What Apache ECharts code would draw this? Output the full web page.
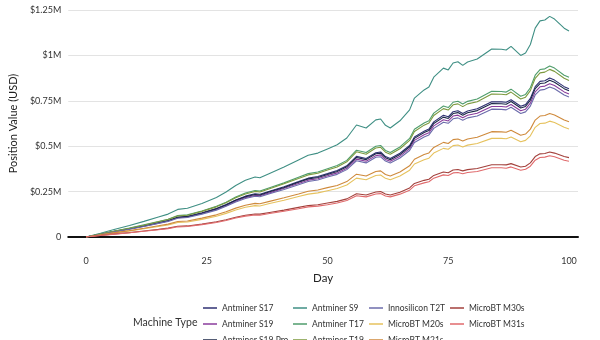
<!DOCTYPE html>
<html><head><meta charset="utf-8">
<script src="https://cdn.jsdelivr.net/npm/echarts@6/dist/echarts.min.js"></script>
<style>html,body{margin:0;padding:0;background:#fff}#c{width:600px;height:340px}</style>
</head><body><div id="c"></div>
<script>
// Values in thousands of USD
const days = [0,3,6,9,12,15,17,19,21,24,27,29,31,33,35,36,38,41,44,46,48,50,52,54,56,58,60,61,62,63,65,67,68,70,71,72,74,75,76,77,78,79,81,84,86,87,88,90,91,92,93,94,95,96,97,99,100];
const antminerS9 = [0,21,43,63,86,110,126,152,158,185,218,248,284,312,330,326,350,385,424,450,462,485,508,545,617,600,645,650,615,600,640,700,765,810,826,880,930,920,958,965,945,964,980,1035,1034,1030,1050,1000,1013,1060,1150,1190,1195,1215,1200,1150,1134];
const antminerT17 = [0,16,33,49,67,85,98,118,122,143,169,192,220,242,256,253,271,298,329,349,358,376,394,422,478,465,500,504,477,465,496,543,593,628,640,682,721,713,742,748,732,747,760,802,801,798,814,775,785,822,891,922,926,942,930,891,879];
const antminerT19 = [0,16,33,48,65,84,96,116,120,141,166,188,216,237,251,248,266,293,322,342,351,369,386,414,469,456,490,494,467,456,486,532,581,616,628,669,707,699,728,733,718,733,745,787,786,783,798,760,770,806,874,904,908,923,912,874,862];
const antminerS17 = [0,15,31,45,62,79,91,109,114,133,157,179,204,225,238,235,252,277,305,324,333,349,366,392,444,432,464,468,443,432,461,504,551,583,595,634,670,662,690,695,680,694,706,745,744,742,756,720,729,763,828,857,860,875,864,828,816];
const antminerS19Pro = [0,15,31,45,61,78,89,108,112,131,155,176,202,222,234,231,249,273,301,320,328,344,361,387,438,426,458,462,437,426,454,497,543,575,586,625,660,653,680,685,671,684,696,735,734,731,746,710,719,753,817,845,848,863,852,817,805];
const antminerS19 = [0,15,30,44,60,76,88,106,110,129,152,172,197,217,229,227,243,268,295,313,321,337,353,379,429,417,448,452,427,417,445,487,532,563,574,612,646,639,666,671,657,670,681,719,719,716,730,695,704,737,799,827,831,844,834,799,788];
const innosiliconT2T = [0,14,29,43,58,75,86,103,107,126,148,169,193,212,224,222,238,262,288,306,314,330,345,371,420,408,439,442,418,408,435,476,520,551,562,598,632,626,651,656,643,656,666,704,703,700,714,680,689,721,782,809,813,826,816,782,771];
const microbtM21s = [0,12,24,35,48,62,71,85,88,104,122,139,159,175,185,183,196,216,237,252,259,272,284,305,346,336,361,364,344,336,358,392,428,454,463,493,521,515,536,540,529,540,549,580,579,577,588,560,567,594,644,666,669,680,672,644,635];
const microbtM20s = [0,11,23,33,45,58,66,80,83,97,114,130,149,164,173,171,184,202,223,236,243,255,267,286,324,315,339,341,323,315,336,368,402,425,434,462,488,483,503,507,496,506,515,543,543,541,551,525,532,557,604,625,627,638,630,604,595];
const microbtM30s = [0,8,17,24,33,42,49,59,61,71,84,95,109,120,127,126,135,148,163,173,178,187,196,210,238,231,248,250,237,231,246,270,295,312,318,339,358,354,369,372,364,371,377,398,398,397,404,385,390,408,443,458,460,468,462,443,437];
const microbtM31s = [0,8,16,23,32,40,46,56,58,68,80,91,105,115,121,120,129,142,156,166,170,178,187,201,227,221,237,239,226,221,236,258,282,298,304,324,342,339,353,355,348,355,361,381,381,379,386,368,373,390,423,438,440,447,442,423,417];

const xMin = 0, xMax = 100, xStep = 25;
const yMin = 0, yMax = 1250000, yStep = 250000;

const seriesDefs = [
  ['Antminer S17', antminerS17, '#2f3173'],
  ['Antminer S19', antminerS19, '#8a3d9c'],
  ['Antminer S19 Pro', antminerS19Pro, '#1b2747'],
  ['Antminer S9', antminerS9, '#3f8f84'],
  ['Antminer T17', antminerT17, '#4f9d6c'],
  ['Antminer T19', antminerT19, '#7d9a3e'],
  ['Innosilicon T2T', innosiliconT2T, '#6c6cab'],
  ['MicroBT M20s', microbtM20s, '#e6c25e'],
  ['MicroBT M21s', microbtM21s, '#cf8a3c'],
  ['MicroBT M30s', microbtM30s, '#a3413c'],
  ['MicroBT M31s', microbtM31s, '#e06a6c']
];

const font = 'Lato';
const series = seriesDefs.map(([name, vals, color]) => ({
  name, type: 'line', showSymbol: false, symbol: 'none',
  xAxisIndex: 1, yAxisIndex: 1,
  lineStyle: {width: 1.1, color}, itemStyle: {color},
  data: days.map((d, i) => [d, vals[i] * 1000])
}));

const colX = [203, 293, 369, 450];
const legends = colX.map((x, ci) => ({
  orient: 'vertical', left: x, top: 301, height: 80,
  icon: 'rect', itemWidth: 14, itemHeight: 1.5, itemGap: 2,
  textStyle: {fontFamily: font, fontSize: 8.5, color: '#333', lineHeight: 14},
  data: seriesDefs.slice(ci * 3, ci * 3 + 3).map(s => s[0]),
  selectedMode: false, padding: 0
}));

const fmtY = v => (v === 0 ? '0' : '$' + (v / 1e6) + 'M');

const chart = echarts.init(document.getElementById('c'), null, {renderer: 'canvas'});
chart.setOption({
  animation: false,
  grid: [
    {left: 62, right: 22, top: 10, bottom: 103, containLabel: false},
    {left: 86, right: 31, top: 10, bottom: 103, containLabel: false}
  ],
  xAxis: [{
    gridIndex: 0, type: 'value', min: 0, max: 1, offset: 11,
    name: 'Day', nameLocation: 'middle', nameGap: 24,
    nameTextStyle: {fontFamily: font, fontSize: 11.5, color: '#222'},
    axisLine: {show: true, lineStyle: {color: '#111', width: 2}},
    axisTick: {show: false}, splitLine: {show: false}, axisLabel: {show: false}
  }, {
    gridIndex: 1, type: 'value', min: xMin, max: xMax, interval: xStep, offset: 11,
    axisLine: {show: false}, axisTick: {show: false}, splitLine: {show: false},
    axisLabel: {fontFamily: font, fontSize: 9, color: '#333', margin: 9}
  }],
  yAxis: [{
    gridIndex: 0, type: 'value', min: yMin, max: yMax, interval: yStep,
    name: 'Position Value (USD)', nameLocation: 'middle', nameGap: 48,
    nameTextStyle: {fontFamily: font, fontSize: 11, color: '#222'},
    axisLine: {show: false}, axisTick: {show: false},
    splitLine: {show: true, lineStyle: {color: '#e3e3e3', width: 1}},
    axisLabel: {formatter: fmtY, fontFamily: font, fontSize: 9, color: '#333', margin: 7}
  }, {
    gridIndex: 1, type: 'value', min: yMin, max: yMax, interval: yStep, show: false
  }],
  legend: legends,
  graphic: [{
    type: 'text', left: 133, top: 317,
    style: {text: 'Machine Type', fontFamily: font, fontSize: 10.5, fill: '#333'}
  }],
  series
});
</script></body></html>
